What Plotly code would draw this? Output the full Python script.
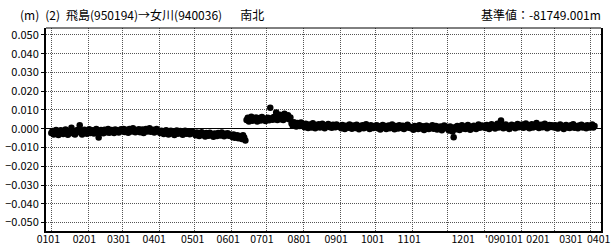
import pandas as pd
import plotly.graph_objects as go

# ---- data: daily south-north baseline change (mm), one list per month ----
month_starts = ["2008-01-01", "2008-02-01", "2008-03-01", "2008-04-01", "2008-05-01",
                "2008-06-01", "2008-07-01", "2008-08-01", "2008-09-01", "2008-10-01",
                "2008-11-01", "2008-12-01", "2009-01-01", "2009-02-01", "2009-03-01",
                "2009-04-01"]

ns_2008_01 = [-2.3, -1.2, -3.0, -1.8, -0.6, -2.5, -3.3, -1.4, -0.8, -2.1, -2.8, -1.0, -0.4, -1.9, -3.2, -2.4,
              -1.3, 0.5, -1.0, -2.6, -3.1, -1.5, -0.7, -1.2, 1.9, -2.2, -3.0, -1.6, -0.5, -2.0, -2.7]
ns_2008_02 = [-1.4, -0.3, -2.2, -1.7, -0.8, -2.5, -1.0, -0.1, -1.6, -4.6, -2.0, -0.7, -1.3, -2.4, -0.5,
              -0.9, -1.8, -0.2, -2.1, -1.2, -0.6, -1.5, -2.3, -0.4, -1.1, -0.8, -2.0, -1.4, -0.3]
ns_2008_03 = [-1.0, -0.2, -1.7, -0.5, -1.3, -2.1, -0.1, -0.8, -1.5, 0.2, -1.1, -1.9, -0.6, -1.2, -0.3, -1.8,
              -0.9, -0.4, -2.2, -1.0, -0.1, -1.4, -0.7, 0.3, -1.6, -1.1, -0.5, -2.0, -1.3, -0.2, -0.9]
ns_2008_04 = [-1.5, -2.3, -1.0, -1.9, -2.8, -1.3, -0.8, -2.1, -3.0, -1.6, -1.1, -2.5, -1.8, -3.3, -1.4,
              -0.9, -2.7, -2.0, -1.2, -2.4, -3.2, -1.7, -1.0, -2.6, -1.9, -1.3, -2.9, -2.2, -1.5, -2.1]
ns_2008_05 = [-2.6, -3.5, -2.0, -3.1, -3.9, -2.4, -1.8, -3.3, -2.7, -4.1, -2.2, -3.0, -3.7, -2.1, -2.8, -3.4,
              -4.3, -2.5, -3.2, -3.8, -2.3, -2.9, -3.6, -2.0, -2.8, -4.0, -2.6, -3.3, -2.4, -3.7, -3.1]
ns_2008_06 = [-3.6, -4.4, -3.1, -4.8, -4.0, -3.4, -5.1, -3.8, -4.3, -5.5, -3.5, -4.7, -6.2,
              4.6, 5.8, 3.9, 5.2, 6.4, 4.3, 5.5, 4.8, 6.0, 3.8, 5.1, 5.7, 4.4, 6.2, 4.9, 5.3, 4.1]
ns_2008_07 = [5.0, 5.9, 4.5, 11.2, 5.6, 4.8, 6.3, 5.2, 8.7, 4.6, 5.8, 7.4, 5.0, 6.1, 4.7, 8.0, 5.4, 6.6,
              7.2, 5.1, 6.0, 2.8, 1.6, 3.4, 2.2, 1.2, 3.0, 2.5, 1.4, 3.3, 2.0]
ns_2008_08 = [1.8, 0.8, 2.6, 1.3, 0.4, 2.2, 1.6, 0.7, 2.9, 1.1, 0.3, 2.0, 1.5, 2.4, 0.6, 1.2, 2.7, 1.0,
              0.2, 1.9, 1.4, 2.5, 0.9, 1.7, 0.5, 2.1, 1.3, 0.8, 2.3, 1.6, 1.0]
ns_2008_09 = [1.4, 0.3, 2.0, 0.9, -0.2, 1.6, 1.1, 0.5, 2.3, 0.8, 0.0, 1.7, 1.2, 0.4, 2.1, 1.0, -0.3, 1.5,
              0.7, 1.9, 0.2, 1.3, 2.4, 0.6, 1.0, -0.1, 1.8, 0.9, 0.4, 1.5]
ns_2008_10 = [0.9, 1.8, 0.2, 1.3, -0.4, 1.0, 2.0, 0.5, 1.5, -0.1, 0.8, 1.7, 0.3, 1.2, 2.2, 0.6, -0.3, 1.4,
              0.9, 0.1, 1.9, 1.1, 0.4, 1.6, -0.2, 0.7, 1.3, 2.1, 0.5, 1.0, 0.2]
ns_2008_11 = [0.8, -0.5, 1.5, 0.4, 1.0, -0.2, 1.8, 0.6, 0.1, 1.3, -0.6, 0.9, 1.6, 0.3, -0.1, 1.1, 0.5, 1.9,
              0.0, 0.7, 1.4, -0.4, 0.9, 0.2, 1.2, -0.8, 0.6, 1.7, 0.3, 1.0]
ns_2008_12 = [0.5, -0.9, 1.2, 0.2, -1.4, -4.5, 0.8, -0.3, 1.5, 0.4, -0.6, 1.0, 1.9, 0.1, 0.7, -0.2, 1.3,
              2.0, 0.6, -0.5, 1.1, 0.3, 1.6, 0.9, -0.1, 1.4, 2.2, 0.5, 1.0, 1.7, 0.8]
ns_2009_01 = [1.3, 0.4, 2.0, 1.0, -0.2, 1.6, 2.4, 0.8, 1.2, 0.1, 1.8, 2.6, 0.6, 1.4, 4.4, 1.0, 0.3, 1.9,
              2.3, 0.7, 1.5, -0.1, 1.1, 2.1, 0.9, 1.7, 0.2, 1.3, 2.5, 0.8, 1.6]
ns_2009_02 = [1.0, 2.2, 0.5, 1.5, 2.8, 0.9, 1.3, 0.2, 1.9, 2.4, 0.7, 1.4, 1.0, 3.0, 1.6, 0.4, 1.2, 2.1,
              0.8, 1.7, 2.6, 1.1, 0.3, 1.5, 2.0, 0.9, 1.8, 1.2]
ns_2009_03 = [0.6, 1.8, 1.2, 0.1, 1.5, 2.3, 0.8, 1.1, -0.2, 1.6, 2.0, 0.7, 1.3, 0.4, 1.9, 1.0, 2.4, 0.5,
              1.4, 0.9, 0.2, 1.7, 1.2, 2.1, 0.6, 1.0, 1.5, 0.3, 1.8, 1.1, 0.7]
ns_2009_04 = [1.2, 2.3, 0.6, 1.4]

monthly_values = [ns_2008_01, ns_2008_02, ns_2008_03, ns_2008_04, ns_2008_05, ns_2008_06,
                  ns_2008_07, ns_2008_08, ns_2008_09, ns_2008_10, ns_2008_11, ns_2008_12,
                  ns_2009_01, ns_2009_02, ns_2009_03, ns_2009_04]

# month gridlines and the label texts / label anchor dates
grid_months = month_starts
tick_labels = ["0101", "0201", "0301", "0401", "0501", "0601", "0701", "0801", "0901",
               "1001", "1101", "1201", "'090101", "0201", "0301", "0401"]
label_dates = ["2007-12-29 12:00", "2008-01-28 22:00", "2008-02-27", "2008-03-28",
               "2008-04-29 12:00", "2008-05-29 12:00", "2008-06-27", "2008-07-28 12:00",
               "2008-08-28 17:00", "2008-09-28 12:00", "2008-10-29 10:00", "2008-12-14",
               "2009-01-17 12:00", "2009-02-15 06:00", "2009-03-15", "2009-04-07 12:00"]
y_ticks = [-0.05, -0.04, -0.03, -0.02, -0.01, 0.0, 0.01, 0.02, 0.03, 0.04, 0.05]

title_left = "(m)\u2002(2)\u2002飛島(950194)→女川(940036)\u3000\u2002南北"
title_right = "基準値：-81749.001m"

# ---- build series ----
xs, ys = [], []
for start, vals in zip(month_starts, monthly_values):
    days = pd.date_range(start, periods=len(vals), freq="D")
    xs.extend(days)
    ys.extend(v / 1000.0 for v in vals)

FONT = "Noto Sans CJK JP"
x_range = ["2007-12-27 12:00", "2009-04-09 12:00"]
PLOT_W = 611 - 46 - 10

fig = go.Figure()
fig.add_trace(go.Scatter(
    x=xs, y=ys, mode="markers",
    marker=dict(color="black", size=6.5, line=dict(width=0)),
    showlegend=False, hoverinfo="skip"))
fig.add_trace(go.Scatter(x=[], y=[], xaxis="x2", showlegend=False, hoverinfo="skip"))

fig.update_layout(
    width=611, height=251,
    margin=dict(l=46, r=10, t=28, b=20, autoexpand=False),
    paper_bgcolor="white", plot_bgcolor="white",
    font=dict(family=FONT, size=11, color="black"),
    xaxis=dict(
        type="date", range=x_range, automargin=False,
        tickvals=grid_months, showticklabels=False, ticks="",
        showgrid=True, gridcolor="#555555", gridwidth=1, griddash="1px,1px",
        showline=True, linecolor="black", linewidth=2, mirror=False,
        zeroline=False),
    xaxis2=dict(
        type="date", range=x_range, overlaying="x", anchor="y", side="bottom",
        automargin=False, tickangle=0,
        tickvals=label_dates, ticktext=tick_labels, ticks="",
        showgrid=False, showline=False, zeroline=False,
        tickfont=dict(family=FONT, size=10.5, color="black")),
    yaxis=dict(
        range=[-0.0545, 0.0537], tickvals=y_ticks, tickformat=".3f", automargin=False,
        ticks="outside", ticklen=3, tickcolor="black",
        showgrid=True, gridcolor="#555555", gridwidth=1, griddash="1px,1px",
        zeroline=True, zerolinecolor="black", zerolinewidth=1,
        showline=True, linecolor="black", linewidth=2, mirror=True,
        tickfont=dict(family=FONT, size=11, color="black")),
    shapes=[dict(type="line", xref="paper", yref="paper", x0=0, x1=1, y0=1, y1=1,
                 line=dict(color="black", width=1))],
    annotations=[
        dict(text=title_left, xref="paper", yref="paper", x=-28 / PLOT_W, y=1,
             xanchor="left", yanchor="bottom", yshift=3, showarrow=False,
             font=dict(family=FONT, size=12, color="black")),
        dict(text=title_right, xref="paper", yref="paper", x=1, y=1,
             xanchor="right", yanchor="bottom", yshift=3, xshift=2, showarrow=False,
             font=dict(family=FONT, size=12, color="black")),
    ],
)

fig.write_html(
    "out.html",
    config={"displayModeBar": False, "staticPlot": True},
    post_script="document.body.style.margin='0';document.body.style.overflow='hidden';",
)
